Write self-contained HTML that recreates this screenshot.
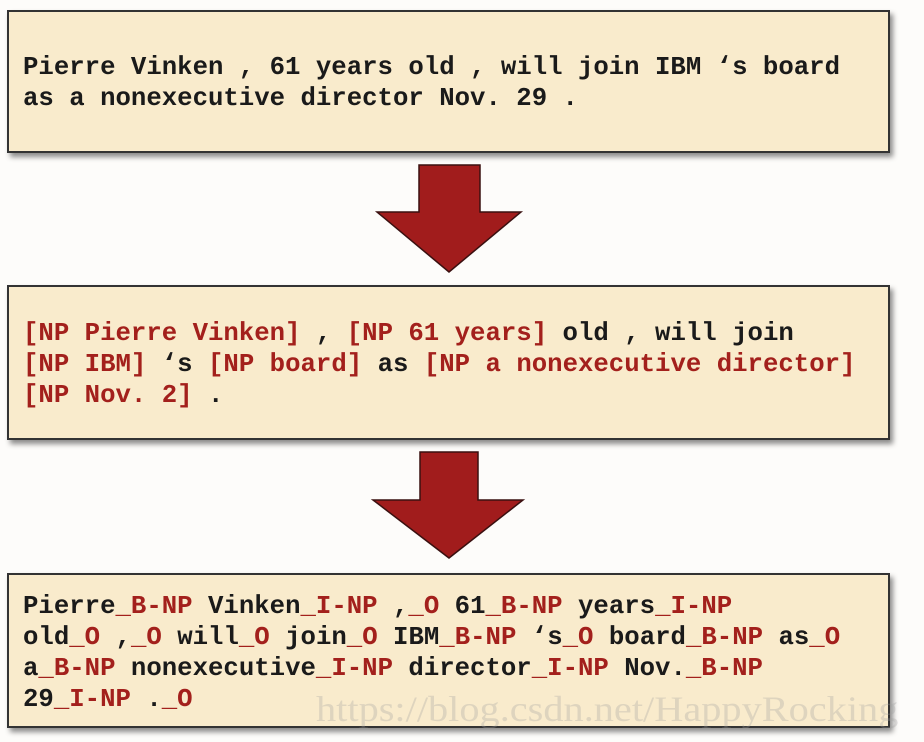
<!DOCTYPE html>
<html><head><style>
body{margin:0;width:924px;height:742px;background:#fdfcfa;position:relative;overflow:hidden;font-family:"Liberation Mono",monospace;}
.box{position:absolute;left:7px;width:883px;background:#f9ebcc;border:2px solid #333;box-shadow:3px 4px 5px rgba(0,0,0,.45);box-sizing:border-box;}
.t{position:absolute;left:14px;font-size:25.7px;font-weight:bold;line-height:31px;color:#1a1a1a;white-space:pre;letter-spacing:0}
.r{color:#a3201c}
.wm{position:absolute;left:316px;top:688px;font-family:"Liberation Serif",serif;font-size:36px;color:rgba(160,160,160,.3);transform:scaleX(1.12);transform-origin:left top;white-space:nowrap}
</style></head><body>
<div class="box" style="top:10px;height:143px"><div class="t" style="top:40px">Pierre Vinken , 61 years old , will join IBM ‘s board
as a nonexecutive director Nov. 29 .</div></div>
<svg style="position:absolute;left:0;top:0" width="924" height="742">
<polygon points="419,165 480,165 480,212 521,212 449,272 377,212 419,212" fill="#a11c1c" stroke="#3a1010" stroke-width="1.5"/>
<polygon points="420,452 478,452 478,500 523,500 449,558 373,500 420,500" fill="#a11c1c" stroke="#3a1010" stroke-width="1.5"/>
</svg>
<div class="box" style="top:285px;height:155px"><div class="t" style="top:31px"><span class="r">[NP Pierre Vinken]</span> , <span class="r">[NP 61 years]</span> old , will join
<span class="r">[NP IBM]</span> ‘s <span class="r">[NP board]</span> as <span class="r">[NP a nonexecutive director]</span>
<span class="r">[NP Nov. 2]</span> .</div></div>
<div class="box" style="top:573px;height:155px"><div class="t" style="top:16px">Pierre<span class="r">_B-NP</span> Vinken<span class="r">_I-NP</span> ,<span class="r">_O</span> 61<span class="r">_B-NP</span> years<span class="r">_I-NP</span>
old<span class="r">_O</span> ,<span class="r">_O</span> will<span class="r">_O</span> join<span class="r">_O</span> IBM<span class="r">_B-NP</span> ‘s<span class="r">_O</span> board<span class="r">_B-NP</span> as<span class="r">_O</span>
a<span class="r">_B-NP</span> nonexecutive<span class="r">_I-NP</span> director<span class="r">_I-NP</span> Nov.<span class="r">_B-NP</span>
29<span class="r">_I-NP</span> .<span class="r">_O</span></div></div>
<div class="wm">https://blog.csdn.net/HappyRocking</div>
</body></html>
